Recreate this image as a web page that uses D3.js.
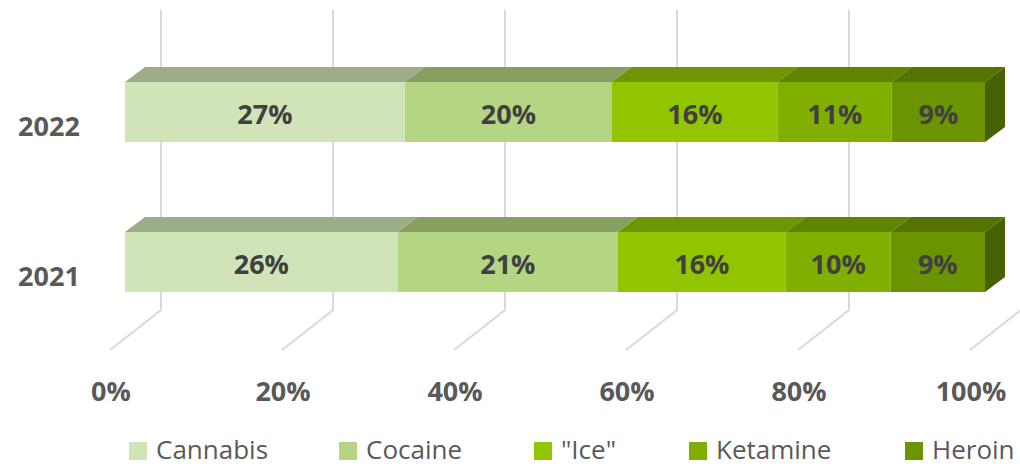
<!DOCTYPE html>
<html>
<head>
<meta charset="utf-8">
<script src="https://cdn.jsdelivr.net/npm/d3@7/dist/d3.min.js"></script>
<style>
  html, body { margin: 0; padding: 0; background: #ffffff; }
  svg { display: block; font-family: "Open Sans", "Noto Sans", sans-serif; }
</style>
</head>
<body>
<svg id="chart" width="1020" height="466"></svg>
<script>
// ---- data ----
const years = ["2022", "2021"];
const drugs = ["Cannabis", "Cocaine", "\"Ice\"", "Ketamine", "Heroin"];
const values2022 = [27, 20, 16, 11, 9];
const values2021 = [26, 21, 16, 10, 9];
const tickValues = [0, 0.2, 0.4, 0.6, 0.8, 1.0];
const tickLabels = ["0%", "20%", "40%", "60%", "80%", "100%"];

// ---- styles ----
const frontColors = ["#d0e4b8", "#b4d584", "#92c500", "#82ae00", "#6b9400"];
const topColors   = ["#9dad89", "#87a062", "#6e9600", "#608400", "#557300"];
const sideColor   = "#476000";

const svg = d3.select("#chart");

// scales (front face of bars)
const x = d3.scaleLinear().domain([0, 1]).range([125, 985]);
const y = d3.scaleBand().domain(years).range([37, 337]).paddingInner(0.6).paddingOuter(0.3);

// 3D offsets
const barDX = 20, barDY = 15;        // bar depth
const backDX = 36;                   // back wall relative to bar front
const floorFrontDX = -15;            // floor front relative to bar front
const backTop = 10, backBottom = 310, floorFront = 350;

// gridlines (back wall + floor)
const grid = svg.append("g");
tickValues.forEach(v => {
  const xb = x(v) + backDX;
  const xf = x(v) + floorFrontDX;
  grid.append("path")
    .attr("d", `M${xb},${backTop} L${xb},${backBottom} L${xf},${floorFront}`)
    .attr("fill", "none")
    .attr("stroke", "#d9d9d9")
    .attr("stroke-width", 2);
});

// bars
const dataByYear = { "2022": values2022, "2021": values2021 };
years.forEach(yr => {
  const vals = dataByYear[yr];
  const total = d3.sum(vals);
  let cum = 0;
  const segs = vals.map((v, i) => {
    const s = { i, v, x0: cum / total, x1: (cum + v) / total };
    cum += v;
    return s;
  });
  const y0 = y(yr), y1 = y(yr) + y.bandwidth();
  const g = svg.append("g");
  segs.forEach(s => {
    const a = x(s.x0), b = x(s.x1);
    // top face
    g.append("path")
      .attr("d", `M${a},${y0} L${b},${y0} L${b + barDX},${y0 - barDY} L${a + barDX},${y0 - barDY} Z`)
      .attr("fill", topColors[s.i]);
    // front face
    g.append("rect")
      .attr("x", a).attr("y", y0)
      .attr("width", b - a).attr("height", y1 - y0)
      .attr("fill", frontColors[s.i]);
  });
  // right side face
  const last = segs[segs.length - 1];
  const r = x(last.x1);
  g.append("path")
    .attr("d", `M${r},${y0} L${r + barDX},${y0 - barDY} L${r + barDX},${y1 - barDY} L${r},${y1} Z`)
    .attr("fill", sideColor);
  // labels
  segs.forEach(s => {
    g.append("text")
      .attr("x", (x(s.x0) + x(s.x1)) / 2)
      .attr("y", (y0 + y1) / 2 + 1)
      .attr("text-anchor", "middle")
      .attr("dominant-baseline", "central")
      .attr("font-size", 27)
      .attr("font-weight", 700)
      .attr("fill", "#404040")
      .text(s.v + "%");
  });
  // year label
  svg.append("text")
    .attr("x", 49)
    .attr("y", (y0 + y1) / 2 + 13)
    .attr("text-anchor", "middle")
    .attr("dominant-baseline", "central")
    .attr("font-size", 27)
    .attr("font-weight", 700)
    .attr("fill", "#595959")
    .text(yr);
});

// x axis tick labels
tickValues.forEach((v, i) => {
  svg.append("text")
    .attr("x", x(v) + floorFrontDX + 1)
    .attr("y", 401)
    .attr("text-anchor", "middle")
    .attr("font-size", 27)
    .attr("font-weight", 700)
    .attr("fill", "#595959")
    .text(tickLabels[i]);
});

// legend
const legendX = [129, 339, 534, 689, 905];
const lg = svg.append("g");
drugs.forEach((d, i) => {
  lg.append("rect")
    .attr("x", legendX[i]).attr("y", 442)
    .attr("width", 18).attr("height", 18)
    .attr("fill", frontColors[i]);
  lg.append("text")
    .attr("x", legendX[i] + 27)
    .attr("y", 459)
    .attr("font-size", 26)
    .attr("fill", "#595959")
    .text(d);
});
</script>
</body>
</html>
